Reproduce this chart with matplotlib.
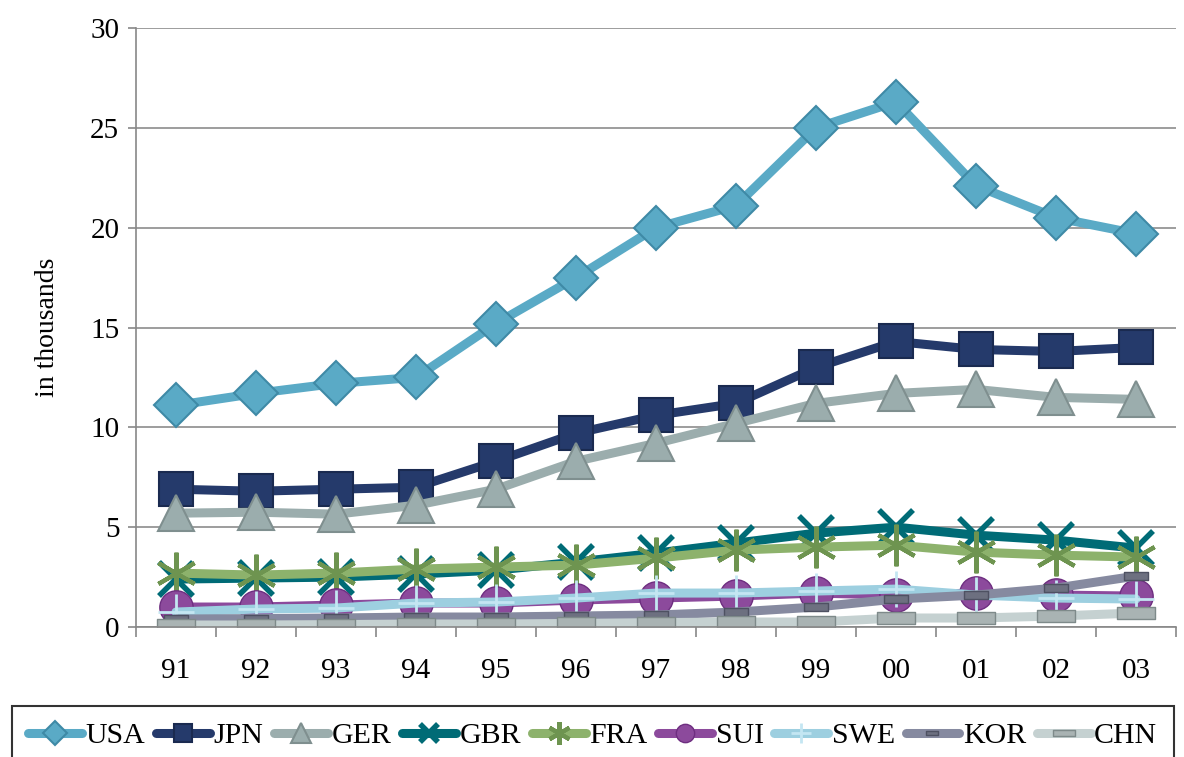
import matplotlib.pyplot as plt
from matplotlib.path import Path

years = ['91', '92', '93', '94', '95', '96', '97', '98', '99', '00', '01', '02', '03']

usa = [11.1, 11.7, 12.2, 12.5, 15.2, 17.5, 20.0, 21.1, 25.0, 26.3, 22.1, 20.5, 19.7]
jpn = [6.9, 6.8, 6.9, 7.0, 8.3, 9.7, 10.6, 11.2, 13.0, 14.3, 13.9, 13.8, 14.0]
ger = [5.7, 5.75, 5.65, 6.1, 6.9, 8.3, 9.2, 10.2, 11.2, 11.7, 11.9, 11.5, 11.4]
gbr = [2.4, 2.45, 2.5, 2.65, 2.85, 3.25, 3.7, 4.2, 4.7, 5.0, 4.6, 4.35, 3.95]
fra = [2.7, 2.6, 2.7, 2.9, 3.0, 3.1, 3.45, 3.85, 4.0, 4.1, 3.75, 3.6, 3.5]
sui = [1.0, 1.0, 1.1, 1.2, 1.2, 1.35, 1.45, 1.55, 1.7, 1.6, 1.7, 1.6, 1.55]
swe = [0.75, 0.9, 0.95, 1.2, 1.25, 1.45, 1.7, 1.7, 1.8, 1.9, 1.6, 1.45, 1.4]
kor = [0.4, 0.42, 0.45, 0.5, 0.5, 0.55, 0.6, 0.75, 1.0, 1.4, 1.6, 1.95, 2.55]
chn = [0.1, 0.1, 0.12, 0.15, 0.15, 0.18, 0.22, 0.25, 0.25, 0.45, 0.45, 0.55, 0.7]

plt.rcParams['font.family'] = ['Liberation Serif', 'DejaVu Serif']

# flat boxes for KOR / CHN markers
def flat_box(h):
    return Path([(-1, -h), (1, -h), (1, h), (-1, h), (-1, -h)],
                [Path.MOVETO, Path.LINETO, Path.LINETO, Path.LINETO, Path.CLOSEPOLY])

series = [
    ('USA', usa, '#5aaac6', 'D', 22, '#3f8aa6', 1.5, '#5aaac6'),
    ('JPN', jpn, '#253a6b', 's', 24, '#1a2a50', 1.5, '#253a6b'),
    ('GER', ger, '#9badad', '^', 26, '#7f8f8f', 1.5, '#9badad'),
    ('GBR', gbr, '#006b76', 'x', 24, '#006b76', 4, '#006b76'),
    ('FRA', fra, '#8db26c', (6, 2, 0), 30, '#6e9450', 3, '#8db26c'),
    ('SUI', sui, '#8c4a9c', 'o', 24, '#6e2e80', 1, '#8c4a9c'),
    ('SWE', swe, '#9dcfe0', '+', 26, '#c4e6f2', 2, '#9dcfe0'),
    ('KOR', kor, '#868aa0', flat_box(0.38), 17, '#4e5162', 1, '#6d7080'),
    ('CHN', chn, '#c5d1d1', flat_box(0.3), 28, '#7e8a8a', 1, '#a9b3b3'),
]

fig = plt.figure(figsize=(11.84, 7.57), dpi=100)
ax = fig.add_axes([136 / 1184, 1 - 627 / 757, 1040 / 1184, 599 / 757])

x = list(range(len(years)))
for name, vals, col, mk, ms, ec, mew, fc in series:
    ax.plot(x, vals, color=col, linewidth=6.5, marker=mk, markersize=ms,
            markerfacecolor=fc, markeredgecolor=ec, markeredgewidth=mew,
            solid_capstyle='round', solid_joinstyle='round', label=name)

ax.set_xlim(-0.5, len(years) - 0.5)
ax.set_ylim(0, 30)
ax.set_yticks(range(0, 31, 5))
ax.set_xticks(x)
ax.set_xticklabels(years)
ax.set_xticks([i - 0.5 for i in range(len(years) + 1)], minor=True)
ax.tick_params(axis='x', which='major', length=0, pad=22, labelsize=21)
ax.tick_params(axis='x', which='minor', length=7, width=1.2, color='#888888')
ax.tick_params(axis='y', length=6, width=1.2, color='#888888', labelsize=21, pad=6)

ax.yaxis.grid(True, color='#8c8c8c', linewidth=1.2)
ax.set_axisbelow(True)
for s in ['top', 'right']:
    ax.spines[s].set_visible(False)
for s in ['left', 'bottom']:
    ax.spines[s].set_color('#888888')
    ax.spines[s].set_linewidth(1.2)

ax.set_ylabel('in thousands', fontsize=20, labelpad=22)

leg = ax.legend(loc='upper left', bbox_to_anchor=(12 / 1184, 1 - 706 / 757),
                bbox_transform=fig.transFigure, ncol=9, frameon=True,
                fancybox=False, edgecolor='black', fontsize=21.5,
                handlelength=1.8, handletextpad=0.12, columnspacing=0.36,
                borderpad=0.55, borderaxespad=0, markerscale=0.55)
leg.get_frame().set_linewidth(1.5)

fig.savefig('out.png', dpi=100)
